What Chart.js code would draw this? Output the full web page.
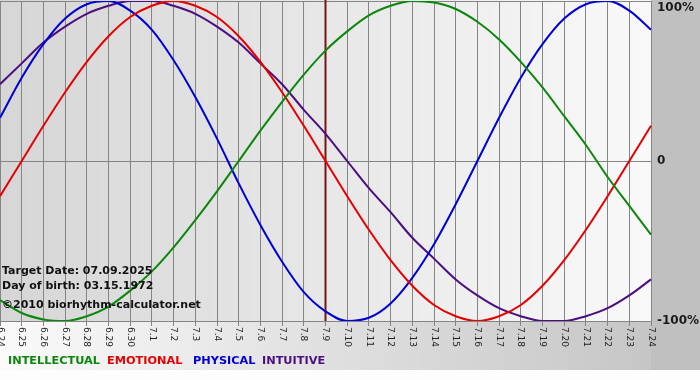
<!DOCTYPE html>
<html>
<head>
<meta charset="utf-8">
<script src="https://cdn.jsdelivr.net/npm/chart.js@4/dist/chart.umd.min.js"></script>
<style>
  html, body { margin: 0; padding: 0; background: #ffffff; }
  #wrap { width: 700px; height: 380px; }
</style>
</head>
<body>
<div id="wrap"><canvas id="bio" width="700" height="380"></canvas></div>
<script>
// days shown on the x axis
const days = ['6.24', '6.25', '6.26', '6.27', '6.28', '6.29', '6.30',
  '7.1', '7.2', '7.3', '7.4', '7.5', '7.6', '7.7', '7.8', '7.9', '7.10',
  '7.11', '7.12', '7.13', '7.14', '7.15', '7.16', '7.17', '7.18', '7.19',
  '7.20', '7.21', '7.22', '7.23', '7.24'];

// curve values (1 = 100%)
const intellectual = [-0.87, -0.95, -0.99, -1.00, -0.97, -0.91, -0.81, -0.69, -0.54, -0.37, -0.19,
  0.00, 0.19, 0.37, 0.54, 0.69, 0.81, 0.91, 0.97, 1.00, 0.99, 0.95, 0.87, 0.76, 0.62, 0.46,
  0.28, 0.10, -0.10, -0.28, -0.46];
const emotional = [-0.22, 0.00, 0.22, 0.43, 0.62, 0.78, 0.90, 0.97, 1.00, 0.97, 0.90, 0.78,
  0.62, 0.43, 0.22, 0.00, -0.22, -0.43, -0.62, -0.78, -0.90, -0.97, -1.00, -0.97, -0.90,
  -0.78, -0.62, -0.43, -0.22, 0.00, 0.22];
const physical = [0.27, 0.52, 0.73, 0.89, 0.98, 1.00, 0.94, 0.82, 0.63, 0.40, 0.14, -0.14,
  -0.40, -0.63, -0.82, -0.94, -1.00, -0.98, -0.89, -0.73, -0.52, -0.27, 0.00, 0.27, 0.52,
  0.73, 0.89, 0.98, 1.00, 0.94, 0.82];
const intuitive = [0.48, 0.61, 0.74, 0.84, 0.92, 0.97, 1.00, 1.00, 0.97, 0.92, 0.84, 0.74,
  0.61, 0.48, 0.32, 0.17, 0.00, -0.17, -0.32, -0.48, -0.61, -0.74, -0.84, -0.92, -0.97,
  -1.00, -1.00, -0.97, -0.92, -0.84, -0.74];

const yTickValues = [1, 0, -1];
const yTickLabels = ['100%', '0', '-100%'];
const targetDay = '7.9';
const infoLines = ['Target Date: 07.09.2025', 'Day of birth: 03.15.1972'];
const copyright = '\u00a92010 biorhythm-calculator.net';
const legendNames = ['INTELLECTUAL', 'EMOTIONAL', 'PHYSICAL', 'INTUITIVE'];
const legendX = [8, 107, 193, 262];

const COLORS = ['#0b870b', '#e60000', '#0000d6', '#4b0f80'];

const bioPlugin = {
  id: 'bio',
  beforeDraw(chart) {
    const { ctx, chartArea: a, width, height } = chart;
    ctx.save();
    // outer frame
    let g = ctx.createLinearGradient(0, 0, width, 0);
    g.addColorStop(0, '#fafafa');
    g.addColorStop(0.93, '#c6c6c6');
    g.addColorStop(1, '#c0c0c0');
    ctx.fillStyle = g;
    ctx.fillRect(0, 0, width, 370);
    ctx.fillStyle = '#c0c0c0';
    ctx.fillRect(a.right, 0, width - a.right, 370);
    ctx.fillStyle = '#fdfdfd';
    ctx.fillRect(0, 370, width, height - 370);
    // plot background
    g = ctx.createLinearGradient(a.left, 0, a.right, 0);
    g.addColorStop(0, '#d6d6d6');
    g.addColorStop(1, '#f9f9f9');
    ctx.fillStyle = g;
    ctx.fillRect(a.left, 0, a.right - a.left, a.bottom);
    ctx.restore();
  },
  beforeDatasetsDraw(chart) {
    const { ctx, chartArea: a, scales } = chart;
    const x = scales.x.getPixelForValue(days.indexOf(targetDay));
    ctx.save();
    ctx.strokeStyle = '#7a1414';
    ctx.lineWidth = 2;
    ctx.beginPath();
    ctx.moveTo(x, 0);
    ctx.lineTo(x, a.bottom);
    ctx.stroke();
    ctx.restore();
  },
  afterDraw(chart) {
    const { ctx, chartArea: a, scales } = chart;
    ctx.save();
    // x labels, rotated clockwise
    ctx.fillStyle = '#222';
    ctx.font = '9px "DejaVu Sans"';
    ctx.textAlign = 'left';
    ctx.textBaseline = 'middle';
    days.forEach((d, i) => {
      const x = scales.x.getPixelForValue(i);
      ctx.save();
      ctx.translate(x, a.bottom + 6);
      ctx.rotate(Math.PI / 2);
      ctx.fillText(d, 0, 0);
      ctx.restore();
    });
    // y labels on the right
    ctx.font = 'bold 12px "DejaVu Sans"';
    ctx.fillStyle = '#1a1a1a';
    yTickValues.forEach((v, i) => {
      const y = Math.max(scales.y.getPixelForValue(v), 8);
      ctx.fillText(yTickLabels[i], a.right + 6, y);
    });
    // info text inside the plot
    ctx.font = 'bold 11px "DejaVu Sans"';
    ctx.fillStyle = '#111';
    ctx.fillText(infoLines[0], 2, 271);
    ctx.fillText(infoLines[1], 2, 286);
    ctx.fillText(copyright, 2, 305);
    // legend row
    ctx.font = 'bold 11.3px "DejaVu Sans"';
    legendNames.forEach((n, i) => {
      ctx.fillStyle = COLORS[i];
      ctx.fillText(n, legendX[i], 361);
    });
    ctx.restore();
  }
};

const series = [intellectual, emotional, physical, intuitive];

new Chart(document.getElementById('bio').getContext('2d'), {
  type: 'line',
  data: {
    labels: days,
    datasets: series.map((s, i) => ({
      label: legendNames[i],
      data: s,
      borderColor: COLORS[i],
      borderWidth: 2,
      pointRadius: 0,
      cubicInterpolationMode: 'monotone',
      fill: false
    }))
  },
  options: {
    responsive: false,
    animation: false,
    devicePixelRatio: 1,
    layout: { padding: { top: 1, left: 0, right: 0, bottom: 0 } },
    plugins: {
      legend: { display: false },
      tooltip: { enabled: false }
    },
    scales: {
      x: {
        ticks: { display: false, autoSkip: false },
        grid: { color: '#858585', lineWidth: 1, drawTicks: true, tickLength: 5 },
        border: { color: '#858585' },
        afterFit: s => { s.height = 59; }
      },
      y: {
        position: 'right',
        min: -1,
        max: 1,
        afterBuildTicks: s => { s.ticks = yTickValues.map(v => ({ value: v })); },
        ticks: { display: false },
        grid: { color: '#858585', lineWidth: 1, drawTicks: false },
        border: { display: false },
        afterFit: s => { s.width = 49; }
      }
    }
  },
  plugins: [bioPlugin]
});
</script>
</body>
</html>
